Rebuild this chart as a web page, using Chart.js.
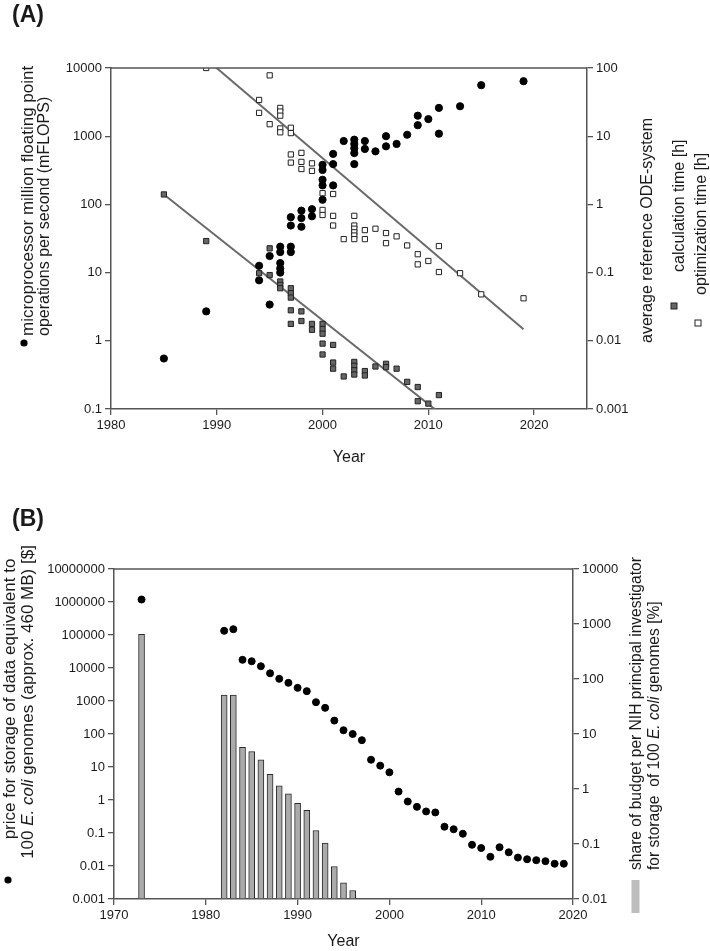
<!DOCTYPE html>
<html>
<head>
<meta charset="utf-8">
<script src="https://cdn.jsdelivr.net/npm/chart.js@4.4.1/dist/chart.umd.min.js"></script>
<style>
  body { margin: 0; background: #fff; width: 710px; height: 951px; overflow: hidden; position: relative; }
  .panel { position: absolute; left: 0; width: 710px; }
  #panelA { top: 0; height: 470px; }
  #panelB { top: 470px; height: 481px; }
</style>
</head>
<body>
<div class="panel" id="panelA"><canvas id="chartA" width="710" height="470"></canvas></div>
<div class="panel" id="panelB"><canvas id="chartB" width="710" height="481"></canvas></div>
<script>
// ---- Panel A data ----
const flopsYears = [1985, 1989, 1994, 1994, 1995, 1995, 1996, 1996, 1996, 1996, 1996,
  1997, 1997, 1997, 1997, 1998, 1998, 1998, 1999, 1999, 2000, 2000, 2000, 2000, 2000,
  2001, 2001, 2001, 2002, 2003, 2003, 2003, 2003, 2003, 2004, 2004, 2005, 2006, 2006,
  2007, 2008, 2009, 2009, 2010, 2011, 2011, 2013, 2015, 2019];
const flopsValues = [0.55, 2.7, 12.6, 7.7, 17.5, 3.4, 24, 20, 13.8, 11.5, 10,
  24, 20, 65, 49, 81, 63, 47, 85, 67, 380, 320, 230, 190, 117,
  550, 390, 190, 850, 890, 770, 665, 565, 390, 850, 650, 600, 1000, 710,
  770, 1050, 2000, 1450, 1780, 2600, 1090, 2750, 5600, 6400];

const calcYears = [1985, 1989, 1994, 1995, 1995, 1996, 1996, 1996,
  1997, 1997, 1997, 1997, 1997, 1998, 1998, 1999, 1999,
  2000, 2000, 2000, 2000, 2000, 2001, 2001, 2001, 2002,
  2003, 2003, 2003, 2003, 2004, 2004, 2005, 2006, 2006, 2007,
  2008, 2009, 2009, 2010, 2011];
const calcHours = [1.4, 0.29, 0.098, 0.227, 0.092, 0.074, 0.066, 0.059,
  0.059, 0.050, 0.043, 0.028, 0.0177, 0.027, 0.0195, 0.0177, 0.0145,
  0.0177, 0.0149, 0.0127, 0.0091, 0.0063, 0.0087, 0.0048, 0.0039, 0.0030,
  0.0049, 0.0043, 0.0037, 0.0032, 0.0036, 0.0031, 0.0042, 0.0046, 0.0041, 0.0039,
  0.0025, 0.0021, 0.0013, 0.0012, 0.0016];

const optYears = [1989, 1994, 1994, 1995, 1995, 1996, 1996, 1996, 1996, 1996,
  1997, 1997, 1997, 1997, 1998, 1998, 1998, 1999, 1999,
  2000, 2000, 2000, 2001, 2001, 2001, 2002,
  2003, 2003, 2003, 2003, 2003, 2003, 2004, 2004, 2005, 2006, 2006, 2007,
  2008, 2009, 2009, 2010, 2011, 2011, 2013, 2015, 2019];
const optHours = [100, 34, 22, 78, 15, 26, 23, 20, 13, 11.4,
  13.3, 11.1, 5.4, 4.1, 5.7, 4.2, 3.3, 4.0, 3.1,
  1.46, 0.83, 0.70, 1.42, 0.68, 0.49, 0.31,
  0.68, 0.49, 0.44, 0.39, 0.35, 0.31, 0.42, 0.31, 0.44, 0.38, 0.27, 0.34,
  0.25, 0.186, 0.132, 0.148, 0.245, 0.102, 0.098, 0.048, 0.042];

// fitted trend lines (end points)
const calcTrendYears = [1985, 2011];
const calcTrendHours = [1.4, 0.00089];
const optTrendYears = [1989, 2019];
const optTrendHours = [135, 0.0148];

const yearTicksA = [1980, 1990, 2000, 2010, 2020];
const flopsTicks = [0.1, 1, 10, 100, 1000, 10000];
const hourTicks = [0.001, 0.01, 0.1, 1, 10, 100];

// ---- Panel B data ----
const priceYears = [1973, 1982, 1983, 1984, 1985, 1986, 1987, 1988, 1989, 1990,
  1991, 1992, 1993, 1994, 1995, 1996, 1997, 1998, 1999, 2000,
  2001, 2002, 2003, 2004, 2005, 2006, 2007, 2008, 2009, 2010,
  2011, 2012, 2013, 2014, 2015, 2016, 2017, 2018, 2019];
const priceValues = [1190000, 134000, 150000, 17700, 16000, 11300, 6900, 4700, 3550, 2500,
  1990, 920, 620, 255, 130, 100, 65, 16.6, 11, 6.9,
  1.8, 0.9, 0.62, 0.45, 0.42, 0.155, 0.13, 0.095, 0.044, 0.035,
  0.019, 0.037, 0.026, 0.018, 0.016, 0.015, 0.014, 0.0117, 0.0117];

const shareYears = [1973, 1982, 1983, 1984, 1985, 1986, 1987, 1988, 1989, 1990,
  1991, 1992, 1993, 1994, 1995, 1996];
const shareValues = [650, 51, 51, 5.75, 4.8, 3.4, 1.84, 1.14, 0.82, 0.55,
  0.41, 0.176, 0.104, 0.039, 0.0197, 0.0143];

const yearTicksB = [1970, 1980, 1990, 2000, 2010, 2020];
const priceTicks = [0.001, 0.01, 0.1, 1, 10, 100, 1000, 10000, 100000, 1000000, 10000000];
const shareTicks = [0.01, 0.1, 1, 10, 100, 1000, 10000];

// ---- helpers ----
const FONT = '"Liberation Sans", Arial, sans-serif';
const AXIS = '#555';
const INK = '#1a1a1a';

function pts(xs, ys) {
  return xs.map((x, i) => ({ x: x, y: ys[i] }));
}

function fixedTicks(list) {
  return function (scale) {
    scale.ticks = list.map(v => ({ value: v }));
  };
}

function axisStyle(extra) {
  return Object.assign({
    grid: { display: true, offset: false, drawOnChartArea: false, drawTicks: true, tickLength: 6, color: AXIS, lineWidth: 1.3 },
    border: { display: true, color: AXIS, width: 1.5 },
    ticks: { color: INK, font: { family: FONT, size: 13 }, padding: 3, autoSkip: false, maxRotation: 0,
             callback: v => String(v) }
  }, extra);
}

// rotated (bottom-to-top) text, parts = [[text, italic], ...]
function turnedText(ctx, t) {
  ctx.save();
  ctx.translate(t.x, t.y);
  ctx.rotate(-Math.PI / 2);
  ctx.textBaseline = 'middle';
  ctx.textAlign = 'left';
  ctx.fillStyle = INK;
  const fontOf = p => (p[1] ? 'italic ' : '') + t.size + 'px ' + FONT;
  let w = 0;
  t.parts.forEach(p => { ctx.font = fontOf(p); w += ctx.measureText(p[0]).width; });
  let pos = t.align === 'center' ? -w / 2 : 0;
  t.parts.forEach(p => { ctx.font = fontOf(p); ctx.fillText(p[0], pos, 0); pos += ctx.measureText(p[0]).width; });
  ctx.restore();
}

function marker(ctx, kind, x, y) {
  ctx.save();
  ctx.lineWidth = 1;
  ctx.strokeStyle = '#222';
  if (kind === 'dot') {
    ctx.fillStyle = '#000';
    ctx.beginPath(); ctx.arc(x, y, 3.6, 0, Math.PI * 2); ctx.fill();
  } else if (kind === 'grey') {
    ctx.fillStyle = '#666';
    ctx.fillRect(x - 3, y - 3, 6, 6); ctx.strokeRect(x - 3, y - 3, 6, 6);
  } else if (kind === 'white') {
    ctx.fillStyle = '#fff';
    ctx.fillRect(x - 3, y - 3, 6, 6); ctx.strokeRect(x - 3, y - 3, 6, 6);
  } else if (kind === 'bar') {
    ctx.fillStyle = '#bdbdbd';
    ctx.fillRect(x - 4, y - 16, 8, 33);
  }
  ctx.restore();
}

// draws the frame top line, panel tag, "Year" and the rotated axis titles
const decorations = {
  id: 'decorations',
  afterDraw(chart, args, opts) {
    const ctx = chart.ctx;
    const a = chart.chartArea;
    ctx.save();
    ctx.strokeStyle = AXIS;
    ctx.lineWidth = 1.5;
    ctx.beginPath(); ctx.moveTo(a.left, a.top); ctx.lineTo(a.right, a.top); ctx.stroke();
    ctx.fillStyle = INK;
    ctx.font = 'bold 23px ' + FONT;
    ctx.textBaseline = 'alphabetic';
    ctx.textAlign = 'left';
    ctx.fillText(opts.tag, opts.tagPos[0], opts.tagPos[1]);
    ctx.font = '16px ' + FONT;
    ctx.textAlign = 'center';
    ctx.textBaseline = 'middle';
    ctx.fillText('Year', (a.left + a.right) / 2, opts.yearY);
    ctx.restore();
    opts.titles.forEach(t => turnedText(ctx, t));
    opts.markers.forEach(m => marker(ctx, m.kind, m.x, m.y));
  }
};

Chart.register(decorations);

// ---- Panel A chart ----
new Chart(document.getElementById('chartA'), {
  type: 'scatter',
  data: {
    datasets: [
      {
        label: 'mFLOPS', data: pts(flopsYears, flopsValues), yAxisID: 'y', order: 0,
        pointStyle: 'circle', pointRadius: 3.6, backgroundColor: '#000', borderColor: '#000', borderWidth: 1
      },
      {
        label: 'calculation time', data: pts(calcYears, calcHours), yAxisID: 'y2', order: 2,
        pointStyle: 'rect', pointRadius: 3.7, backgroundColor: '#666', borderColor: '#222', borderWidth: 1
      },
      {
        label: 'optimization time', data: pts(optYears, optHours), yAxisID: 'y2', order: 1,
        pointStyle: 'rect', pointRadius: 3.7, backgroundColor: '#fff', borderColor: '#222', borderWidth: 1
      },
      {
        type: 'line', label: 'calc trend', data: pts(calcTrendYears, calcTrendHours), yAxisID: 'y2', order: 3,
        borderColor: '#6a6a6a', borderWidth: 2, pointRadius: 0, fill: false
      },
      {
        type: 'line', label: 'opt trend', data: pts(optTrendYears, optTrendHours), yAxisID: 'y2', order: 3,
        borderColor: '#6a6a6a', borderWidth: 2, pointRadius: 0, fill: false
      }
    ]
  },
  options: {
    responsive: false,
    animation: false,
    layout: { padding: { top: 68, left: 0, right: 0, bottom: 0 } },
    scales: {
      x: axisStyle({ type: 'linear', position: 'bottom', min: 1980, max: 2025,
        afterBuildTicks: fixedTicks(yearTicksA), afterFit: s => { s.height = 61; } }),
      y: axisStyle({ type: 'logarithmic', position: 'left', min: 0.1, max: 10000,
        afterBuildTicks: fixedTicks(flopsTicks), afterFit: s => { s.width = 111; } }),
      y2: axisStyle({ type: 'logarithmic', position: 'right', min: 0.001, max: 100,
        afterBuildTicks: fixedTicks(hourTicks), afterFit: s => { s.width = 123; } })
    },
    plugins: {
      legend: { display: false },
      tooltip: { enabled: false },
      decorations: {
        tag: '(A)', tagPos: [12, 22], yearY: 458,
        titles: [
          { x: 28, y: 336, size: 17, align: 'left', parts: [['microprocessor million floating point', false]] },
          { x: 45, y: 336, size: 16, align: 'left', parts: [['operations per second (mFLOPS)', false]] },
          { x: 648, y: 343, size: 16, align: 'left', parts: [['average reference ODE-system', false]] },
          { x: 680, y: 272, size: 16, align: 'left', parts: [['calculation time [h]', false]] },
          { x: 702, y: 295, size: 16, align: 'left', parts: [['optimization time [h]', false]] }
        ],
        markers: [
          { kind: 'dot', x: 24, y: 343 },
          { kind: 'grey', x: 674, y: 306 },
          { kind: 'white', x: 698, y: 323 }
        ]
      }
    }
  }
});

// ---- Panel B chart ----
new Chart(document.getElementById('chartB'), {
  type: 'scatter',
  data: {
    datasets: [
      {
        label: 'price', data: pts(priceYears, priceValues), yAxisID: 'y', order: 0,
        pointStyle: 'circle', pointRadius: 3.5, backgroundColor: '#000', borderColor: '#000', borderWidth: 1
      },
      {
        type: 'bar', label: 'share of budget', data: pts(shareYears, shareValues), yAxisID: 'y2', order: 1,
        base: 0.01, barThickness: 6, backgroundColor: '#ababab', borderColor: '#2a2a2a', borderWidth: 1
      }
    ]
  },
  options: {
    responsive: false,
    animation: false,
    layout: { padding: { top: 99, left: 0, right: 0, bottom: 0 } },
    scales: {
      x: axisStyle({ type: 'linear', position: 'bottom', min: 1970, max: 2020, offset: false,
        afterBuildTicks: fixedTicks(yearTicksB), afterFit: s => { s.height = 52; } }),
      y: axisStyle({ type: 'logarithmic', position: 'left', min: 0.001, max: 10000000,
        afterBuildTicks: fixedTicks(priceTicks), afterFit: s => { s.width = 114; } }),
      y2: axisStyle({ type: 'logarithmic', position: 'right', min: 0.01, max: 10000,
        afterBuildTicks: fixedTicks(shareTicks), afterFit: s => { s.width = 137; } })
    },
    plugins: {
      legend: { display: false },
      tooltip: { enabled: false },
      decorations: {
        tag: '(B)', tagPos: [12, 56], yearY: 472,
        titles: [
          { x: 10, y: 229, size: 17, align: 'center', parts: [['price for storage of data equivalent to', false]] },
          { x: 28, y: 232, size: 17, align: 'center', parts: [['100 ', false], ['E. coli', true], [' genomes (approx. 460 MB) [$]', false]] },
          { x: 637, y: 400, size: 15.6, align: 'left', parts: [['share of budget per NIH principal investigator', false]] },
          { x: 655, y: 400, size: 15.6, align: 'left', parts: [['for storage  of 100 ', false], ['E. coli', true], [' genomes [%]', false]] }
        ],
        markers: [
          { kind: 'dot', x: 8, y: 410 },
          { kind: 'bar', x: 635.5, y: 426 }
        ]
      }
    }
  }
});
</script>
</body>
</html>
